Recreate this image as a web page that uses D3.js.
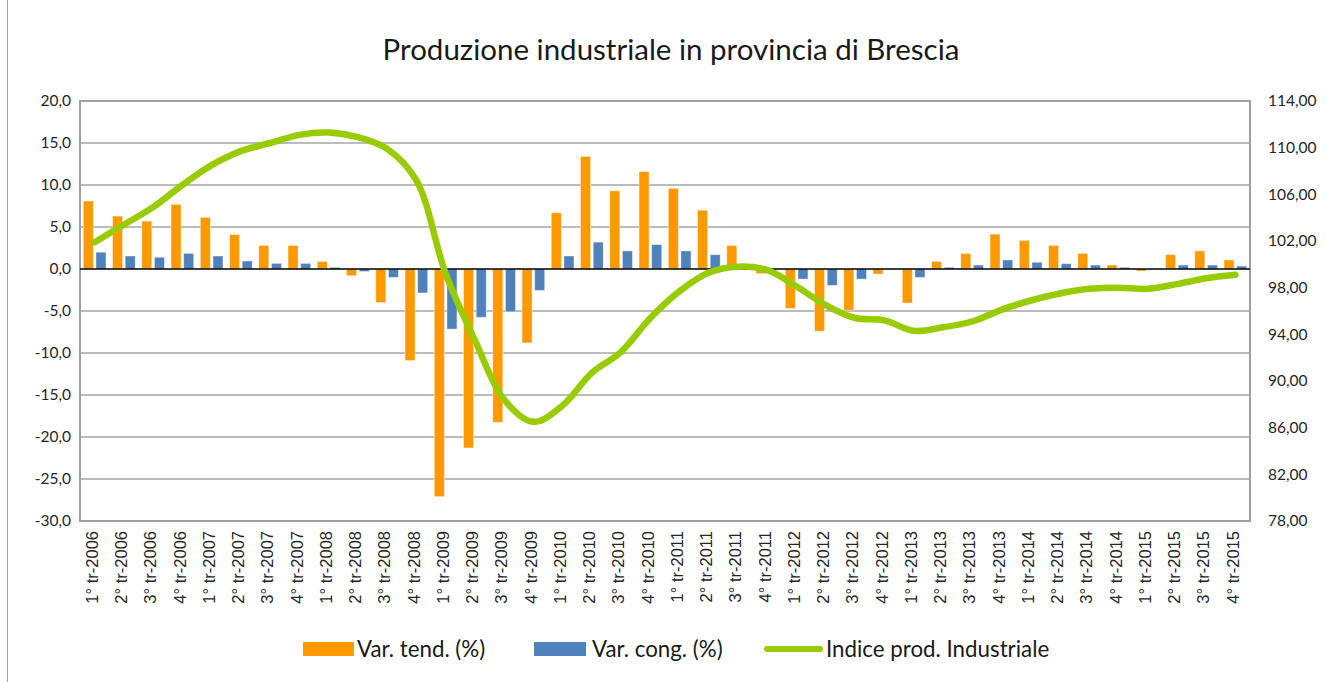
<!DOCTYPE html>
<html>
<head>
<meta charset="utf-8">
<script src="https://cdn.jsdelivr.net/npm/d3@7"></script>
<style>
  body { margin: 0; background: #fff; }
  svg { display: block; }
</style>
</head>
<body>
<div id="chart-container"></div>
<script>
// Quarters on the x axis
const quarters = [
  '1° tr-2006', '2° tr-2006', '3° tr-2006', '4° tr-2006',
  '1° tr-2007', '2° tr-2007', '3° tr-2007', '4° tr-2007',
  '1° tr-2008', '2° tr-2008', '3° tr-2008', '4° tr-2008',
  '1° tr-2009', '2° tr-2009', '3° tr-2009', '4° tr-2009',
  '1° tr-2010', '2° tr-2010', '3° tr-2010', '4° tr-2010',
  '1° tr-2011', '2° tr-2011', '3° tr-2011', '4° tr-2011',
  '1° tr-2012', '2° tr-2012', '3° tr-2012', '4° tr-2012',
  '1° tr-2013', '2° tr-2013', '3° tr-2013', '4° tr-2013',
  '1° tr-2014', '2° tr-2014', '3° tr-2014', '4° tr-2014',
  '1° tr-2015', '2° tr-2015', '3° tr-2015', '4° tr-2015'
];

// Var. tend. (%) - orange bars, left axis
const varTend = [
  8.1, 6.3, 5.7, 7.7, 6.15, 4.1, 2.8, 2.8,
  0.9, -0.8, -4.0, -10.9, -27.1, -21.3, -18.25, -8.8,
  6.7, 13.4, 9.3, 11.6, 9.6, 7.0, 2.8, -0.55,
  -4.7, -7.4, -4.9, -0.6, -4.05, 0.9, 1.85, 4.15,
  3.4, 2.8, 1.85, 0.47, -0.25, 1.7, 2.15, 1.07
];

// Var. cong. (%) - blue bars, left axis
const varCong = [
  2.0, 1.55, 1.4, 1.85, 1.55, 0.95, 0.67, 0.67,
  0.2, -0.3, -1.0, -2.85, -7.15, -5.75, -5.1, -2.55,
  1.55, 3.2, 2.15, 2.9, 2.15, 1.7, 0.1, -0.1,
  -1.2, -1.95, -1.2, -0.05, -1.0, 0.2, 0.47, 1.07,
  0.8, 0.63, 0.47, 0.2, 0.0, 0.47, 0.47, 0.35
];

// Indice prod. Industriale - green line, right axis
const indice = [
  101.9, 103.4, 104.9, 106.8, 108.5, 109.7, 110.4, 111.1,
  111.3, 110.9, 109.9, 107.2, 99.2, 93.5, 88.4, 86.5,
  87.9, 90.7, 92.5, 95.4, 97.7, 99.3, 99.8, 99.5,
  98.1, 96.5, 95.4, 95.2, 94.3, 94.6, 95.1, 96.1,
  96.9, 97.5, 97.9, 98.0, 97.9, 98.3, 98.8, 99.1
];

// Axis ticks
const leftTicks = [20, 15, 10, 5, 0, -5, -10, -15, -20, -25, -30];
const rightTicks = [114, 110, 106, 102, 98, 94, 90, 86, 82, 78];

const seriesNames = ['Var. tend. (%)', 'Var. cong. (%)', 'Indice prod. Industriale'];

const colors = { tend: '#ff9900', cong: '#4f81bd', indice: '#99cc00' };

const width = 1326, height = 682;
const margin = { top: 101, right: 76, bottom: 161, left: 80 };
const plotW = width - margin.left - margin.right;
const plotH = height - margin.top - margin.bottom;

const svg = d3.select('#chart-container').append('svg')
  .attr('width', width).attr('height', height);

// frame line on the left of the screenshot
svg.append('line')
  .attr('x1', 7.5).attr('x2', 7.5).attr('y1', 0).attr('y2', height)
  .attr('stroke', '#a0a0a0').attr('stroke-width', 1);

// Title
svg.append('text')
  .attr('x', 671).attr('y', 60)
  .attr('text-anchor', 'middle')
  .style('font-family', 'Lato, sans-serif')
  .style('font-size', '29.5px')
  .attr('fill', '#1a1a1a')
  .text('Produzione industriale in provincia di Brescia');

const g = svg.append('g').attr('transform', `translate(${margin.left},${margin.top})`);

// Scales
const x = d3.scaleBand().domain(quarters).range([0, plotW]).padding(0);
const xs = d3.scaleBand().domain(['tend', 'cong']).range([0, x.bandwidth()])
  .paddingInner(0.21).paddingOuter(0.26);
const yL = d3.scaleLinear().domain([-30, 20]).range([plotH, 0]);
const yR = d3.scaleLinear().domain([78, 114]).range([plotH, 0]);

// Gridlines
g.append('g').selectAll('line')
  .data(leftTicks.filter(d => d !== 0))
  .join('line')
  .attr('x1', 0).attr('x2', plotW)
  .attr('y1', d => yL(d)).attr('y2', d => yL(d))
  .attr('stroke', '#a6a6a6').attr('stroke-width', 1.3);

// Plot area border
g.append('rect')
  .attr('x', 0).attr('y', 0).attr('width', plotW).attr('height', plotH)
  .attr('fill', 'none').attr('stroke', '#a0a0a0').attr('stroke-width', 2);

// Bars
const barData = [];
quarters.forEach((q, i) => {
  barData.push({ q, key: 'tend', v: varTend[i] });
  barData.push({ q, key: 'cong', v: varCong[i] });
});

g.append('g').selectAll('rect')
  .data(barData)
  .join('rect')
  .attr('x', d => x(d.q) + xs(d.key))
  .attr('width', xs.bandwidth())
  .attr('y', d => yL(Math.max(0, d.v)))
  .attr('height', d => Math.abs(yL(d.v) - yL(0)))
  .attr('fill', d => colors[d.key])
  .attr('stroke', '#ffffff').attr('stroke-opacity', 0.5).attr('stroke-width', 0.8);

// Zero line
g.append('line')
  .attr('x1', 0).attr('x2', plotW)
  .attr('y1', yL(0)).attr('y2', yL(0))
  .attr('stroke', '#000').attr('stroke-width', 1.3);

// Index line (smoothed like the spreadsheet)
const line = d3.line()
  .x((d, i) => x(quarters[i]) + x.bandwidth() / 2)
  .y(d => yR(d))
  .curve(d3.curveCatmullRom.alpha(0.5));

g.append('path')
  .datum(indice)
  .attr('d', line)
  .attr('fill', 'none')
  .attr('stroke', colors.indice)
  .attr('stroke-width', 6.5)
  .attr('stroke-linecap', 'round')
  .attr('stroke-linejoin', 'round');

// Left axis
const leftAxis = d3.axisLeft(yL).tickValues(leftTicks).tickSize(0).tickPadding(9)
  .tickFormat(d => d3.format('.1f')(d).replace('.', ',').replace('−', '-'));
g.append('g').call(leftAxis)
  .call(a => a.select('.domain').remove())
  .selectAll('text')
  .style('font-family', 'Lato, sans-serif').style('font-size', '15.5px').attr('fill', '#262626');

// Right axis
const rightAxis = d3.axisRight(yR).tickValues(rightTicks).tickSize(0).tickPadding(18)
  .tickFormat(d => d3.format('.2f')(d).replace('.', ','));
g.append('g').attr('transform', `translate(${plotW},0)`).call(rightAxis)
  .call(a => a.select('.domain').remove())
  .selectAll('text')
  .style('font-family', 'Lato, sans-serif').style('font-size', '15.5px').attr('fill', '#262626');

// X axis labels, rotated
const xAxis = d3.axisBottom(x).tickSize(0).tickPadding(0);
const xg = g.append('g').attr('transform', `translate(0,${plotH})`).call(xAxis);
xg.select('.domain').remove();
xg.selectAll('text')
  .attr('transform', 'rotate(-90)')
  .attr('x', -10).attr('y', 0).attr('dy', '0.2em')
  .attr('text-anchor', 'end')
  .style('font-family', '"Liberation Sans", Arial, sans-serif')
  .style('font-size', '16.5px').attr('fill', '#262626');

// Legend
const legend = svg.append('g');
legend.append('rect').attr('x', 303).attr('y', 642).attr('width', 51).attr('height', 14).attr('fill', colors.tend);
legend.append('rect').attr('x', 534).attr('y', 642).attr('width', 52).attr('height', 14).attr('fill', colors.cong);
legend.append('line').attr('x1', 767).attr('x2', 820).attr('y1', 649).attr('y2', 649)
  .attr('stroke', colors.indice).attr('stroke-width', 6).attr('stroke-linecap', 'round');
legend.selectAll('text.leg')
  .data([[357, seriesNames[0]], [592, seriesNames[1]], [826, seriesNames[2]]])
  .join('text')
  .attr('class', 'leg')
  .attr('x', d => d[0]).attr('y', 657)
  .style('font-family', 'Lato, sans-serif').style('font-size', '22.3px')
  .attr('fill', '#1a1a1a')
  .text(d => d[1]);
</script>
</body>
</html>
